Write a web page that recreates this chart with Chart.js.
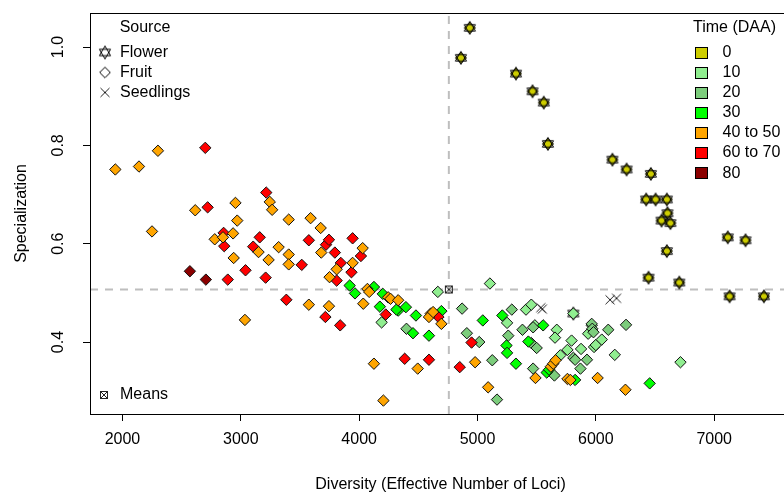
<!DOCTYPE html>
<html lang="en">

<head>
  <meta charset="UTF-8" />
  <script src="https://cdn.jsdelivr.net/npm/chart.js"></script>
  <title>Specialization vs Diversity</title>
  <style>
    * {
      padding: 0;
      margin: 0;
    }

    html, body {
      width: 784px;
      height: 492px;
      overflow: hidden;
      background-color: #ffffff;
    }

    .graph {
      position: relative;
      width: 800px;
      height: 492px;
    }
  </style>
</head>

<body>
  <div class="graph">
    <canvas id="scatterGraph" aria-label="Specialization vs diversity" role="img"></canvas>
  </div>
</body>

<script>
  // Axis ticks
  const xTicks = [2000, 3000, 4000, 5000, 6000, 7000];
  const yTicks = [0.4, 0.6, 0.8, 1.0];

  // Fruit, 40 to 50 DAA
  const orangeX = [1940, 2140, 2300, 2955, 3245, 3265, 2615, 2970, 2250, 2780, 2850, 2935, 3150, 2940, 3235, 3320, 3405, 3590, 3675, 3405, 3405, 3680, 4030, 3945, 3810, 3750, 3035, 3575, 3745, 4035, 4070, 4085, 4245, 4265, 4330, 4605, 4590, 4625, 4695, 4125, 4495, 4205, 4980, 5090, 5490, 5620, 5640, 5660, 5760, 5785, 6015, 6250];
  const orangeY = [0.751, 0.757, 0.789, 0.683, 0.685, 0.669, 0.668, 0.647, 0.625, 0.609, 0.613, 0.621, 0.583, 0.571, 0.567, 0.593, 0.649, 0.652, 0.632, 0.578, 0.558, 0.582, 0.591, 0.561, 0.548, 0.532, 0.445, 0.476, 0.473, 0.478, 0.508, 0.502, 0.491, 0.488, 0.485, 0.458, 0.451, 0.461, 0.437, 0.356, 0.346, 0.281, 0.359, 0.308, 0.327, 0.350, 0.356, 0.363, 0.325, 0.323, 0.327, 0.303];

  // Fruit, 60 to 70 DAA
  const redX = [2700, 3215, 2720, 2855, 2860, 3160, 3105, 3515, 3575, 3720, 3745, 3795, 3945, 4015, 3845, 3935, 3810, 2890, 3040, 3210, 3385, 3715, 3840, 4225, 4385, 4590, 4670, 4950, 4850];
  const redY = [0.795, 0.704, 0.674, 0.622, 0.595, 0.613, 0.594, 0.557, 0.607, 0.598, 0.608, 0.582, 0.611, 0.575, 0.561, 0.542, 0.525, 0.527, 0.546, 0.531, 0.486, 0.451, 0.434, 0.456, 0.366, 0.364, 0.451, 0.399, 0.349];

  // Fruit, 80 DAA
  const darkRedX = [2570, 2705];
  const darkRedY = [0.544, 0.527];

  // Fruit, 30 DAA
  const green30X = [3920, 3965, 4125, 4200, 4175, 4330, 4315, 4395, 4480, 4455, 4590, 4695, 5045, 5210, 5245, 5250, 5325, 5555, 5430, 5585, 5605, 5825, 6455];
  const green30Y = [0.515, 0.499, 0.512, 0.498, 0.472, 0.464, 0.466, 0.471, 0.454, 0.418, 0.413, 0.463, 0.444, 0.454, 0.393, 0.378, 0.356, 0.434, 0.401, 0.338, 0.344, 0.323, 0.316];

  // Fruit, 10 DAA
  const green10X = [4190, 4665, 5105, 5250, 5410, 5455, 5485, 5670, 5655, 5795, 5760, 5875, 5700, 5935, 5965, 5985, 6000, 6050, 6160, 6715, 5810];
  const green10Y = [0.440, 0.502, 0.519, 0.439, 0.466, 0.476, 0.434, 0.425, 0.409, 0.403, 0.384, 0.386, 0.373, 0.417, 0.434, 0.390, 0.394, 0.405, 0.374, 0.359, 0.458];

  // Fruit, 20 DAA
  const green20X = [4870, 4910, 5015, 5125, 5165, 5290, 5260, 5380, 5470, 5455, 5500, 5470, 5650, 5810, 5825, 5870, 5925, 5965, 5970, 5980, 6105, 6255, 4400];
  const green20Y = [0.468, 0.418, 0.400, 0.363, 0.283, 0.466, 0.413, 0.425, 0.430, 0.398, 0.388, 0.346, 0.332, 0.368, 0.364, 0.346, 0.364, 0.437, 0.427, 0.420, 0.425, 0.435, 0.427];

  // Flower, 0 DAA
  const flowerX = [4935, 4860, 5325, 5465, 5560, 5595, 6140, 6260, 6465, 6425, 6505, 6600, 6605, 6555, 6630, 6600, 7115, 7265, 6445, 6705, 7130, 7420];
  const flowerY = [1.039, 0.978, 0.946, 0.910, 0.887, 0.803, 0.771, 0.751, 0.742, 0.690, 0.690, 0.690, 0.662, 0.647, 0.642, 0.585, 0.613, 0.607, 0.531, 0.521, 0.493, 0.493];

  // Flower, 10 DAA (star drawn over the light green diamond)
  const flower10X = [5810];
  const flower10Y = [0.458];

  // Seedlings
  const seedX = [5535, 5548, 6120, 6175];
  const seedY = [0.470, 0.467, 0.486, 0.489];

  // Means
  const meanX = [4758];
  const meanY = [0.507];

  const timeLabels = ["0", "10", "20", "30", "40 to 50", "60 to 70", "80"];
  const timeColors = ["#cdcd00", "#90ee90", "#7ccd7c", "#00ff00", "#ffa500", "#ff0000", "#8b0000"];
  const sourceLabels = ["Flower", "Fruit", "Seedlings"];

  const font = '"Liberation Sans", Arial, Helvetica, sans-serif';

  function pairs(xs, ys) {
    return xs.map((v, i) => ({ x: v, y: ys[i] }));
  }

  // Small canvases used as point styles
  function makeMarker(size, draw) {
    const c = document.createElement('canvas');
    c.width = size;
    c.height = size;
    const g = c.getContext('2d');
    g.translate(size / 2, size / 2);
    draw(g);
    return c;
  }

  function drawDiamond(g, r, fill) {
    g.beginPath();
    g.moveTo(-r, 0);
    g.lineTo(0, -r);
    g.lineTo(r, 0);
    g.lineTo(0, r);
    g.closePath();
    if (fill) {
      g.fillStyle = fill;
      g.fill();
    }
    g.strokeStyle = '#000';
    g.lineWidth = 1;
    g.stroke();
  }

  function drawStar(g) {
    g.beginPath();
    g.moveTo(0, -6.5);
    g.lineTo(5.6, 3.2);
    g.lineTo(-5.6, 3.2);
    g.closePath();
    g.moveTo(0, 6.5);
    g.lineTo(5.6, -3.2);
    g.lineTo(-5.6, -3.2);
    g.closePath();
    g.strokeStyle = '#000';
    g.lineWidth = 1;
    g.stroke();
  }

  function drawCross(g) {
    g.beginPath();
    g.moveTo(-4.5, -4.5);
    g.lineTo(4.5, 4.5);
    g.moveTo(4.5, -4.5);
    g.lineTo(-4.5, 4.5);
    g.strokeStyle = '#222';
    g.lineWidth = 1;
    g.stroke();
  }

  function drawBoxCross(g) {
    g.strokeStyle = '#222';
    g.lineWidth = 1;
    g.strokeRect(-3.5, -3.5, 7, 7);
    g.beginPath();
    g.moveTo(-3.5, -3.5);
    g.lineTo(3.5, 3.5);
    g.moveTo(3.5, -3.5);
    g.lineTo(-3.5, 3.5);
    g.stroke();
  }

  const flowerIcon = makeMarker(16, g => { drawDiamond(g, 5.5, timeColors[0]); drawStar(g); });
  const starIcon = makeMarker(16, g => drawStar(g));
  const fruitIcon = makeMarker(16, g => drawDiamond(g, 5.3, '#ffffff'));
  const crossIcon = makeMarker(16, g => drawCross(g));
  const meanIcon = makeMarker(12, g => drawBoxCross(g));

  function fruitSet(xs, ys, color) {
    return {
      data: pairs(xs, ys),
      pointStyle: 'rectRot',
      pointRadius: 5.7,
      pointBorderWidth: 1,
      pointBorderColor: '#111',
      pointBackgroundColor: color
    };
  }

  function iconSet(xs, ys, icon) {
    return {
      data: pairs(xs, ys),
      pointStyle: icon,
      pointRadius: 6
    };
  }

  // Box, mean lines and the legends
  const framePlugin = {
    id: 'frame',
    beforeDatasetsDraw(chart) {
      const { ctx, chartArea: a, scales: { x, y } } = chart;
      const mx = x.getPixelForValue(meanX[0]);
      const my = y.getPixelForValue(meanY[0]);
      ctx.save();
      ctx.strokeStyle = '#bebebe';
      ctx.lineWidth = 2;
      ctx.setLineDash([8, 7]);
      ctx.beginPath();
      ctx.moveTo(a.left, my);
      ctx.lineTo(a.right, my);
      ctx.moveTo(mx, a.bottom);
      ctx.lineTo(mx, a.top);
      ctx.stroke();
      ctx.restore();
    },
    afterDraw(chart) {
      const { ctx, chartArea: a } = chart;
      ctx.save();
      ctx.strokeStyle = '#000';
      ctx.lineWidth = 1;
      ctx.strokeRect(Math.round(a.left) + 0.5, Math.round(a.top) + 0.5, Math.round(a.right - a.left), Math.round(a.bottom - a.top));

      ctx.font = '16px ' + font;
      ctx.fillStyle = '#000';
      ctx.textBaseline = 'middle';

      // Source legend
      ctx.textAlign = 'center';
      ctx.fillText('Source', 145, 27.5);
      ctx.textAlign = 'left';
      const icons = [starIcon, fruitIcon, crossIcon];
      sourceLabels.forEach((lab, i) => {
        const ly = 52.5 + 20 * i;
        ctx.drawImage(icons[i], 105 - 8, ly - 8);
        ctx.fillText(lab, 120, ly);
      });

      // Means legend
      ctx.drawImage(meanIcon, 104 - 6, 395 - 6);
      ctx.fillText('Means', 120, 395);

      // Time legend
      ctx.fillText('Time (DAA)', 693, 27.5);
      timeLabels.forEach((lab, i) => {
        const ly = 52.5 + 20.1 * i;
        ctx.fillStyle = timeColors[i];
        ctx.fillRect(695.5, Math.round(ly) - 5.5, 12, 11);
        ctx.strokeStyle = '#000';
        ctx.strokeRect(695.5, Math.round(ly) - 5.5, 12, 11);
        ctx.fillStyle = '#000';
        ctx.fillText(lab, 722.5, ly);
      });
      ctx.restore();
    }
  };

  Chart.defaults.color = '#000';
  Chart.defaults.font.family = font;
  Chart.defaults.font.size = 16;

  const scatterGraph = document.getElementById('scatterGraph');

  const scatterChart = new Chart(scatterGraph, {
    type: 'scatter',
    data: {
      datasets: [
        fruitSet(orangeX, orangeY, timeColors[4]),
        fruitSet(redX, redY, timeColors[5]),
        fruitSet(darkRedX, darkRedY, timeColors[6]),
        fruitSet(green30X, green30Y, timeColors[3]),
        fruitSet(green20X, green20Y, timeColors[2]),
        fruitSet(green10X, green10Y, timeColors[1]),
        iconSet(flower10X, flower10Y, starIcon),
        iconSet(flowerX, flowerY, flowerIcon),
        iconSet(seedX, seedY, crossIcon),
        iconSet(meanX, meanY, meanIcon)
      ]
    },
    options: {
      responsive: true,
      maintainAspectRatio: false,
      animation: false,
      layout: {
        padding: { top: 13, right: 9, bottom: 0, left: 0 }
      },
      scales: {
        x: {
          type: 'linear',
          min: 1726,
          max: 7649,
          afterFit: s => {
            s.height = 78;
            s.paddingLeft = 0;
            s.paddingRight = 0;
          },
          afterBuildTicks: s => { s.ticks = xTicks.map(v => ({ value: v })); },
          border: { display: false },
          grid: { drawOnChartArea: false, drawTicks: true, tickLength: 7, color: '#000' },
          ticks: {
            padding: 9,
            autoSkip: false,
            maxRotation: 0,
            callback: v => String(v)
          },
          title: {
            display: true,
            text: 'Diversity (Effective Number of Loci)',
            padding: { top: 0, bottom: -2 }
          }
        },
        y: {
          type: 'linear',
          min: 0.2537,
          max: 1.0692,
          afterFit: s => {
            s.width = 90;
            s.paddingTop = 0;
            s.paddingBottom = 0;
          },
          afterBuildTicks: s => { s.ticks = yTicks.map(v => ({ value: v })); },
          border: { display: false },
          grid: { drawOnChartArea: false, drawTicks: true, tickLength: 7, color: '#000' },
          ticks: {
            padding: 13,
            autoSkip: false,
            minRotation: 90,
            maxRotation: 90,
            crossAlign: 'center',
            callback: v => v.toFixed(1)
          },
          title: {
            display: true,
            text: 'Specialization',
            padding: { top: 12, bottom: 0 }
          }
        }
      },
      plugins: {
        legend: { display: false },
        tooltip: { enabled: false }
      }
    },
    plugins: [framePlugin]
  });
</script>

</html>
